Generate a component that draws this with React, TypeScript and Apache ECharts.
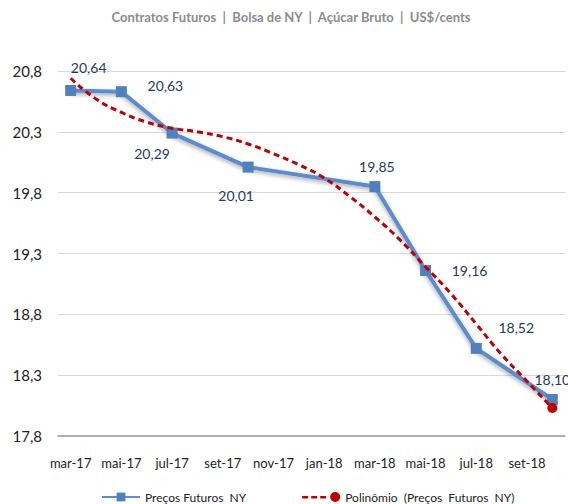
import React, { useEffect, useRef } from "react";
import * as echarts from "echarts";

const months = [
  "mar-17", "abr-17", "mai-17", "jun-17", "jul-17", "ago-17", "set-17", "out-17",
  "nov-17", "dez-17", "jan-18", "fev-18", "mar-18", "abr-18", "mai-18", "jun-18",
  "jul-18", "ago-18", "set-18", "out-18",
];

// Futures contract prices (Mar, Mai, Jul, Out contracts)
const prices: (number | null)[] = [
  20.64, null, 20.63, null, 20.29, null, null, 20.01,
  null, null, null, null, 19.85, null, 19.16, null,
  18.52, null, null, 18.10,
];

// Polynomial trend line values
const trend = [
  20.74, 20.57, 20.46, 20.38, 20.33, 20.3, 20.26, 20.2,
  20.12, 20.03, 19.92, 19.77, 19.6, 19.41, 19.19, 18.97,
  18.72, 18.47, 18.25, 18.03,
];

const yTicks = [17.8, 18.3, 18.8, 19.3, 19.8, 20.3, 20.8];

const seriesNames = ["Preços Futuros  NY", "Polinômio  (Preços  Futuros  NY)"];
const subtitle = "Contratos Futuros  |  Bolsa de NY  |  Açúcar Bruto  |  US$/cents";
const titleText = "Cotação Futura";

// label offsets (style) for the price labels, by category index
const labelOffsets: Record<number, [number, number]> = {
  0: [18, -23],
  2: [44, -6],
  4: [-20, 20],
  7: [-12, 28],
  12: [2, -20],
  14: [44, 0],
  16: [40, -21],
  19: [0, -20],
};

const trendIcon =
  "path://M0,4.5h6v2.5h-6z M9,4.5h6v2.5h-6z M18,4.5h6v2.5h-6z M33,0.5a5,5 0 1,1 0,10a5,5 0 1,1 0,-10z";

const fmt = (v: number) => v.toFixed(1).replace(".", ",");
const fmt2 = (v: number) => v.toFixed(2).replace(".", ",");

export default function App() {
  const ref = useRef<HTMLDivElement>(null);
  useEffect(() => {
    if (!ref.current) return;
    const chart = echarts.init(ref.current, null, { renderer: "svg" });
    const priceData = prices.map((v, i) => {
      if (v === null) return null;
      const off = labelOffsets[i] || [0, -20];
      return {
        value: v,
        label: {
          show: true,
          position: "inside",
          offset: off,
          formatter: () => fmt2(v),
        },
      };
    });
    const trendData = trend.map((v, i) =>
      i === trend.length - 1 ? { value: v } : { value: v, symbol: "none" }
    );
    chart.setOption({
      animation: false,
      textStyle: { fontFamily: "Lato, 'Open Sans', sans-serif" },
      graphic: [
        {
          type: "text",
          x: 219,
          y: -1,
          style: {
            text: titleText,
            fontSize: 18,
            fontWeight: "bold",
            fill: "#000",
            fontFamily: "Lato, sans-serif",
            verticalAlign: "bottom",
          },
        },
        {
          type: "text",
          x: 291,
          y: 17,
          style: {
            text: subtitle,
            fontSize: 13,
            fontWeight: "bold",
            fill: "#8c8c8c",
            fontFamily: "Lato, sans-serif",
            align: "center",
            verticalAlign: "middle",
          },
        },
      ],
      grid: { left: 58, right: 3, top: 71, bottom: 68, containLabel: false },
      legend: {
        data: [
          { name: seriesNames[0] },
          {
            name: seriesNames[1],
            icon: trendIcon,
            itemStyle: { color: "#c00000", borderWidth: 0 },
          },
        ],
        left: 96,
        top: 486,
        itemWidth: 38,
        itemHeight: 11,
        itemGap: 56,
        textStyle: { fontSize: 12, color: "#222", fontFamily: "Lato, sans-serif" },
      },
      xAxis: {
        type: "category",
        data: months,
        boundaryGap: true,
        axisLine: { show: true, lineStyle: { color: "#9a9a9a", width: 1.5 } },
        axisTick: { show: false },
        axisLabel: {
          interval: 1,
          fontSize: 13,
          color: "#222",
          margin: 20,
        },
        splitLine: { show: false },
      },
      yAxis: {
        type: "value",
        min: yTicks[0],
        max: yTicks[yTicks.length - 1],
        interval: 0.5,
        axisLine: { show: false },
        axisTick: { show: false },
        axisLabel: {
          formatter: (v: number) => fmt(v),
          fontSize: 15,
          color: "#222",
          margin: 16,
        },
        splitLine: { lineStyle: { color: "#d9d9d9", width: 1 } },
      },
      series: [
        {
          name: seriesNames[0],
          type: "line",
          data: priceData,
          connectNulls: true,
          symbol: "rect",
          symbolSize: 11,
          z: 2,
          itemStyle: { color: "#4f81bd" },
          lineStyle: {
            color: "#5a8ccf",
            width: 4,
            shadowColor: "rgba(0,0,0,0.35)",
            shadowBlur: 4,
            shadowOffsetY: 2,
          },
          label: {
            color: "#1f3864",
            fontSize: 14,
            fontFamily: "Lato, sans-serif",
          },
        },
        {
          name: seriesNames[1],
          type: "line",
          data: trendData,
          smooth: true,
          symbol: "circle",
          symbolSize: 10,
          z: 3,
          itemStyle: { color: "#c00000" },
          lineStyle: { color: "#c00000", width: 3, type: [6, 4] },
        },
      ],
    });
    return () => chart.dispose();
  }, []);
  return <div ref={ref} style={{ width: 568, height: 504, position: "absolute", left: 0, top: 0 }} />;
}
